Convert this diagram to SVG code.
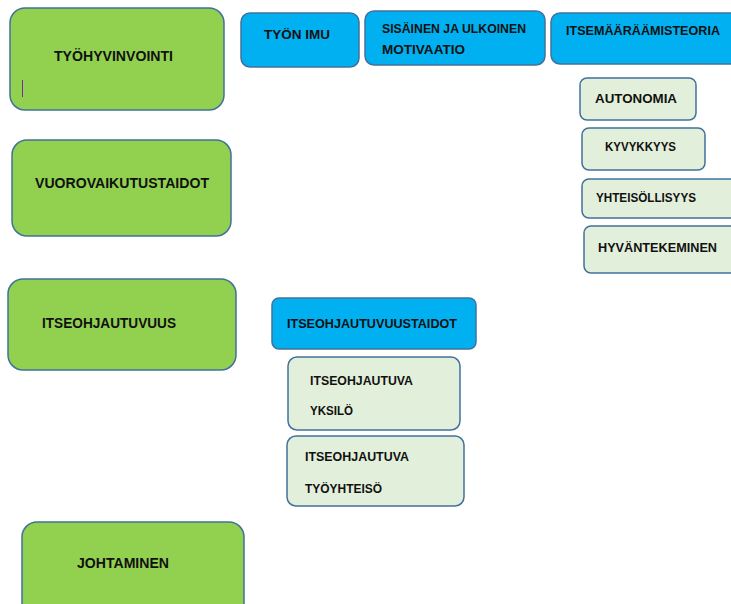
<svg xmlns="http://www.w3.org/2000/svg" width="731" height="604" viewBox="0 0 731 604">
<style>
.g,.b,.l{stroke:#41719C;stroke-width:1.5}
.g{fill:#92D050}
.b{fill:#00B0F0}
.l{fill:#E2EFDA}
text{font-family:"Liberation Sans",Arial,sans-serif;font-weight:bold;fill:#111}
.t1{font-size:14px}
.t2{font-size:12.5px}
</style>
<rect width="731" height="604" fill="#fff"/>
<g id="tyohyvinvointi"><rect class="g" x="10" y="8" width="214" height="102" rx="15"/><text class="t1" x="54" y="61" textLength="119" lengthAdjust="spacingAndGlyphs">TYÖHYVINVOINTI</text><line x1="22.5" y1="80" x2="22.5" y2="97" stroke="#7030A0" stroke-width="1"/></g>
<g id="tyon-imu"><rect class="b" x="241" y="13" width="118" height="54" rx="9"/><text class="t2" x="264" y="39" textLength="66" lengthAdjust="spacingAndGlyphs">TYÖN IMU</text></g>
<g id="motivaatio"><rect class="b" x="365" y="11" width="180" height="54" rx="9"/><line x1="361.5" y1="18" x2="361.5" y2="62" stroke="#fff" stroke-width="3"/><text class="t2" x="382" y="33" textLength="144" lengthAdjust="spacingAndGlyphs">SISÄINEN JA ULKOINEN</text><text class="t2" x="382" y="54" textLength="83" lengthAdjust="spacingAndGlyphs">MOTIVAATIO</text></g>
<g id="itsemaaraamisteoria"><rect class="b" x="551" y="13" width="195" height="51" rx="9"/><text class="t2" x="566" y="35" textLength="154" lengthAdjust="spacingAndGlyphs">ITSEMÄÄRÄÄMISTEORIA</text></g>
<g id="autonomia"><rect class="l" x="580" y="78" width="116" height="42" rx="7"/><text class="t2" x="595" y="103" textLength="82" lengthAdjust="spacingAndGlyphs">AUTONOMIA</text></g>
<g id="kyvykkyys"><rect class="l" x="582" y="128" width="123" height="42" rx="7"/><text class="t2" x="605" y="151" textLength="71" lengthAdjust="spacingAndGlyphs">KYVYKKYYS</text></g>
<g id="yhteisollisyys"><rect class="l" x="582" y="179" width="160" height="39" rx="7"/><text class="t2" x="596" y="202" textLength="100" lengthAdjust="spacingAndGlyphs">YHTEISÖLLISYYS</text></g>
<g id="hyvantekeminen"><rect class="l" x="584" y="226" width="160" height="47" rx="7"/><text class="t2" x="598" y="252" textLength="119" lengthAdjust="spacingAndGlyphs">HYVÄNTEKEMINEN</text></g>
<g id="vuorovaikutustaidot"><rect class="g" x="12" y="140" width="219" height="96" rx="15"/><text class="t1" x="35" y="188" textLength="174" lengthAdjust="spacingAndGlyphs">VUOROVAIKUTUSTAIDOT</text></g>
<g id="itseohjautuvuus"><rect class="g" x="8" y="279" width="228" height="91" rx="15"/><text class="t1" x="42" y="328" textLength="134" lengthAdjust="spacingAndGlyphs">ITSEOHJAUTUVUUS</text></g>
<g id="itseohjautuvuustaidot"><rect class="b" x="272" y="298" width="204" height="51" rx="7"/><text class="t2" x="287" y="328" textLength="170" lengthAdjust="spacingAndGlyphs">ITSEOHJAUTUVUUSTAIDOT</text></g>
<g id="yksilo"><rect class="l" x="288" y="357" width="172" height="73" rx="9"/><text class="t2" x="310" y="385" textLength="103" lengthAdjust="spacingAndGlyphs">ITSEOHJAUTUVA</text><text class="t2" x="310" y="415" textLength="43" lengthAdjust="spacingAndGlyphs">YKSILÖ</text></g>
<g id="tyoyhteiso"><rect class="l" x="287" y="436" width="177" height="70" rx="9"/><text class="t2" x="305" y="461" textLength="104" lengthAdjust="spacingAndGlyphs">ITSEOHJAUTUVA</text><text class="t2" x="305" y="493" textLength="77" lengthAdjust="spacingAndGlyphs">TYÖYHTEISÖ</text></g>
<g id="johtaminen"><rect class="g" x="22" y="522" width="222" height="100" rx="15"/><text class="t1" x="77" y="568" textLength="92" lengthAdjust="spacingAndGlyphs">JOHTAMINEN</text></g>
<g id="connectors"></g>
</svg>
